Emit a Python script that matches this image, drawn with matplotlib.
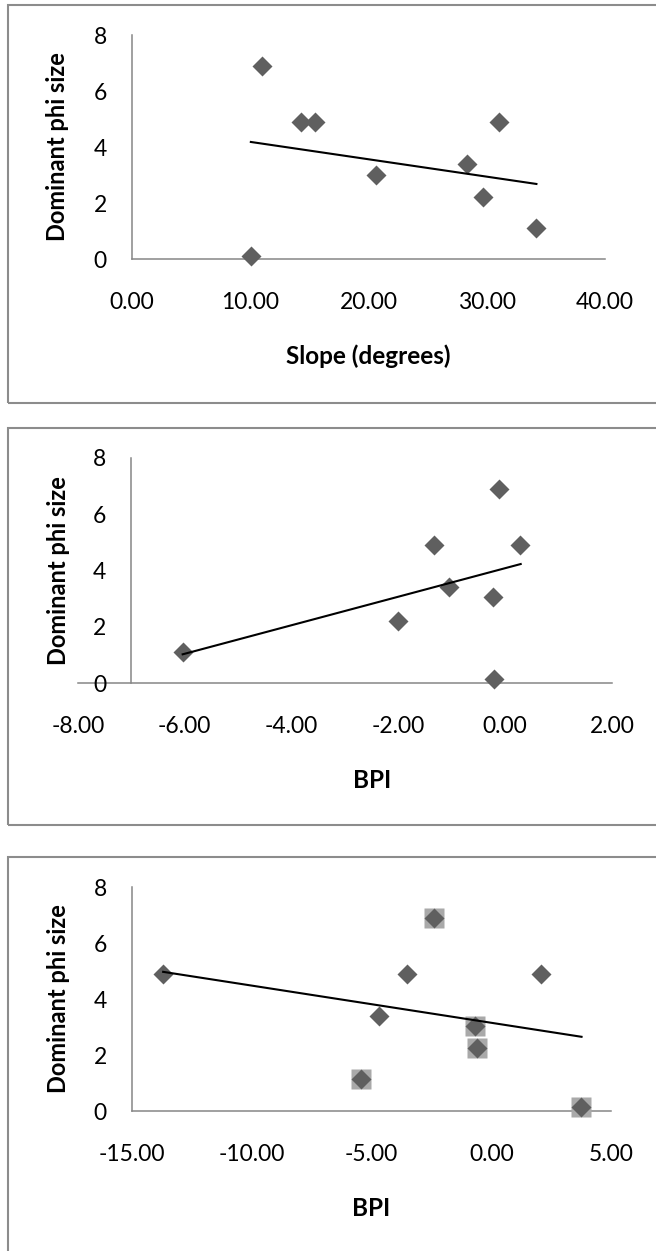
import matplotlib
matplotlib.use("Agg")
import matplotlib.pyplot as plt
from matplotlib.patches import Rectangle

plt.rcParams['font.family'] = ['Lato', 'DejaVu Sans']

# Panel 1: slope vs dominant phi size
slope_x = [10.05, 11.0, 14.25, 15.45, 20.6, 28.3, 29.7, 31.0, 34.2]
slope_y = [0.1, 6.9, 4.9, 4.9, 3.0, 3.4, 2.2, 4.9, 1.1]
slope_trend_x = [10.05, 34.2]
slope_trend_y = [4.18, 2.68]

# Panel 2: BPI (broad) vs dominant phi size
bpi1_x = [-6.04, -2.01, -1.33, -1.06, -0.22, -0.12, -0.21, 0.28]
bpi1_y = [1.1, 2.2, 4.9, 3.4, 3.05, 6.9, 0.13, 4.9]
bpi1_trend_x = [-6.04, 0.29]
bpi1_trend_y = [1.02, 4.23]

# Panel 3: BPI (fine) vs dominant phi size
bpi2_x = [-13.7, -4.7, -5.44, -3.53, -2.39, -0.68, -0.61, 2.08, 3.76]
bpi2_y = [4.9, 3.4, 1.15, 4.9, 6.9, 3.05, 2.25, 4.9, 0.13]
bpi2_sq_x = [-5.44, -2.39, -0.68, -0.61, 3.76]
bpi2_sq_y = [1.15, 6.9, 3.05, 2.25, 0.13]
bpi2_trend_x = [-13.7, 3.77]
bpi2_trend_y = [4.97, 2.65]

W, H = 656, 1251
fig = plt.figure(figsize=(W / 100, H / 100), dpi=100)

DIAM = '#5f5f5f'
SQ = '#a9a9a9'
AXC = '#868686'
BOX = '#8c8c8c'


def frame(top, bottom):
    # grey outline around each chart, cut by the right edge of the picture
    r = Rectangle((7.5 / W, 1 - bottom / H), 1.2, (bottom - top) / H,
                  transform=fig.transFigure, fill=False, ec=BOX, lw=1.5)
    fig.patches.append(r)


def panel(left, right, top, bottom, xlim, xticks, xlabel, ycross=None):
    ax = fig.add_axes([left / W, 1 - bottom / H, (right - left) / W, (bottom - top) / H])
    ax.set_xlim(*xlim)
    ax.set_ylim(0, 8)
    ax.set_xticks(xticks)
    ax.set_xticklabels(['{:.2f}'.format(v) for v in xticks])
    ax.set_yticks([0, 2, 4, 6, 8])
    for s in ['top', 'right']:
        ax.spines[s].set_visible(False)
    for s in ['left', 'bottom']:
        ax.spines[s].set_color(AXC)
        ax.spines[s].set_linewidth(1.1)
        ax.spines[s].set_zorder(1)
    if ycross is not None:
        ax.spines['left'].set_position(('data', ycross))
    ax.tick_params(axis='both', length=0, labelsize=16.5, colors='black')
    ax.tick_params(axis='x', pad=24)
    ax.tick_params(axis='y', pad=18)
    ax.set_xlabel(xlabel, fontsize=17.5, fontweight='bold')
    ax.set_ylabel('Dominant phi size', fontsize=17, fontweight='bold')
    ax.xaxis.label.set_va('center')
    xc = 0.5 if ycross is None else ((ycross + xlim[1]) / 2 - xlim[0]) / (xlim[1] - xlim[0])
    ax.xaxis.set_label_coords(xc, -97 / (bottom - top))
    ax.yaxis.label.set_va('center')
    ax.yaxis.set_label_coords((58 - left) / (right - left), 0.5)
    ax.patch.set_alpha(0)
    return ax


frame(5, 403)
frame(428, 825)
frame(857, 1260)

ax1 = panel(132, 605, 35, 259, (0, 40), [0, 10, 20, 30, 40], 'Slope (degrees)')
ax1.plot(slope_x, slope_y, 'D', ms=10, color=DIAM, mec='none', clip_on=False, zorder=3)
ax1.plot(slope_trend_x, slope_trend_y, color='black', lw=1.5, zorder=4)

ax2 = panel(78, 612, 458, 683, (-8, 2), [-8, -6, -4, -2, 0, 2], 'BPI', ycross=-7)
ax2.plot(bpi1_x, bpi1_y, 'D', ms=10, color=DIAM, mec='none', clip_on=False, zorder=3)
ax2.plot(bpi1_trend_x, bpi1_trend_y, color='black', lw=1.5, zorder=4)

ax3 = panel(132, 611, 887, 1111, (-15, 5), [-15, -10, -5, 0, 5], 'BPI')
ax3.plot(bpi2_sq_x, bpi2_sq_y, 's', ms=14.5, color=SQ, mec='none', clip_on=False, zorder=3)
ax3.plot(bpi2_x, bpi2_y, 'D', ms=10, color=DIAM, mec='none', clip_on=False, zorder=3.5)
ax3.plot(bpi2_trend_x, bpi2_trend_y, color='black', lw=1.5, zorder=4)

fig.savefig('out.png', dpi=100)
